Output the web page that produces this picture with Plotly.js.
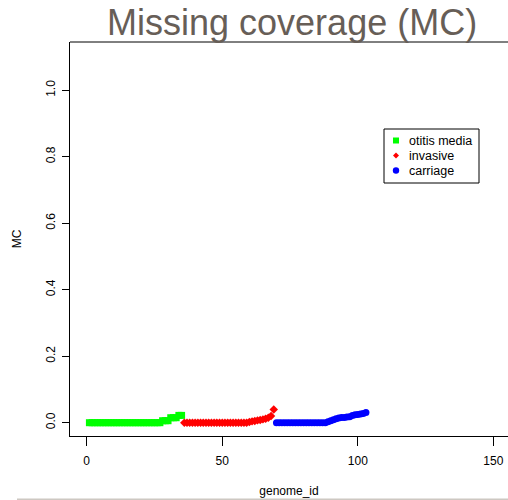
<!DOCTYPE html>
<html>
<head>
<meta charset="utf-8">
<script src="https://cdn.plot.ly/plotly-3.0.1.min.js"></script>
<style>html,body{margin:0;padding:0;background:#fff;}#chart{width:508px;height:500px;}</style>
</head>
<body>
<div id="chart"></div>
<script>
var seriesNames = ["otitis media", "invasive", "carriage"];
var seriesColors = ["#00ff00", "#ff0000", "#0000ff"];

var otitisIds = [1,2,3,4,5,6,7,8,9,10,11,12,13,14,15,16,17,18,19,20,21,22,23,24,25,26,27,28,29,30,31,32,33,34,35];
var otitisMC  = [0,0,0,0,0,0,0,0,0,0,0,0,0,0,0,0,0,0,0,0,0,0,0,0,0,0,0,0.006,0.006,0.006,0.015,0.015,0.015,0.022,0.022];

var invasiveIds = [36,37,38,39,40,41,42,43,44,45,46,47,48,49,50,51,52,53,54,55,56,57,58,59,60,61,62,63,64,65,66,67,68,69];
var invasiveMC  = [0,0,0,0,0,0,0,0,0,0,0,0,0,0,0,0,0,0,0,0,0,0,0,0,0.002,0.004,0.005,0.007,0.008,0.010,0.012,0.015,0.020,0.040];

var carriageIds = [70,71,72,73,74,75,76,77,78,79,80,81,82,83,84,85,86,87,88,89,90,91,92,93,94,95,96,97,98,99,100,101,102,103];
var carriageMC  = [0,0,0,0,0,0,0,0,0,0,0,0,0,0,0,0,0,0,0,0.003,0.006,0.009,0.012,0.014,0.016,0.016,0.017,0.018,0.022,0.024,0.025,0.026,0.028,0.031];

var xTicks = [0, 50, 100, 150];
var yTicks = [0, 0.2, 0.4, 0.6, 0.8, 1.0];
var yTickText = ["0.0", "0.2", "0.4", "0.6", "0.8", "1.0"];

var font = "Liberation Sans, Arial, Helvetica, sans-serif";

var traces = [
  {x: otitisIds, y: otitisMC, name: seriesNames[0], type: "scatter", mode: "markers",
   marker: {symbol: "square", size: 7, color: seriesColors[0]}},
  {x: invasiveIds, y: invasiveMC, name: seriesNames[1], type: "scatter", mode: "markers",
   marker: {symbol: "diamond", size: 6.5, color: seriesColors[1]}},
  {x: carriageIds, y: carriageMC, name: seriesNames[2], type: "scatter", mode: "markers",
   marker: {symbol: "circle", size: 7, color: seriesColors[2]}}
];

// plot area in px: x 70..508, y 42..436
function px(v) { return (v - 70) / 438; }
function py(v) { return (436 - v) / 394; }

var legendRows = [140.5, 155.5, 170.5];
var legendShapes = [
  {type: "rect", xref: "paper", yref: "paper", x0: px(384), x1: px(479), y0: py(183), y1: py(129),
   line: {color: "#000", width: 1}, fillcolor: "#fff"},
  {type: "rect", xref: "paper", yref: "paper", xsizemode: "pixel", ysizemode: "pixel",
   xanchor: px(396), yanchor: py(legendRows[0]), x0: -3, x1: 3, y0: -3, y1: 3,
   line: {width: 0}, fillcolor: seriesColors[0]},
  {type: "path", xref: "paper", yref: "paper", xsizemode: "pixel", ysizemode: "pixel",
   xanchor: px(396), yanchor: py(legendRows[1]), path: "M0,-3 L3,0 L0,3 L-3,0 Z",
   line: {width: 0}, fillcolor: seriesColors[1]},
  {type: "circle", xref: "paper", yref: "paper", xsizemode: "pixel", ysizemode: "pixel",
   xanchor: px(396), yanchor: py(legendRows[2]), x0: -3.2, x1: 3.2, y0: -3.2, y1: 3.2,
   line: {width: 0}, fillcolor: seriesColors[2]}
];
var legendAnnots = seriesNames.map(function (n, i) {
  return {text: n, xref: "paper", yref: "paper", x: px(407), y: py(legendRows[i]),
          xanchor: "left", yanchor: "middle", showarrow: false, font: {size: 12.5, color: "#000"}};
});

var layout = {
  width: 508, height: 500,
  margin: {l: 70, r: 0, t: 42, b: 64, pad: 0},
  paper_bgcolor: "#ffffff", plot_bgcolor: "#ffffff",
  font: {family: font, size: 12, color: "#000"},
  showlegend: false,
  title: {text: "Missing coverage (MC)", font: {family: font, size: 36, color: "#675e57"},
          xref: "container", yref: "container", x: 0.575, xanchor: "center", y: 0.955, yanchor: "middle"},
  xaxis: {range: [-6.16, 155.4], tickvals: xTicks, ticktext: xTicks.map(String),
          showgrid: false, zeroline: false, showline: true, linecolor: "#000", linewidth: 1,
          ticks: "outside", ticklen: 9, tickcolor: "#000", tickfont: {size: 12},
          ticklabelstandoff: 5,
          title: {text: "genome_id", font: {size: 12}, standoff: 19}},
  yaxis: {range: [-0.040, 1.1453], tickvals: yTicks, ticktext: yTickText, tickangle: -90,
          showgrid: false, zeroline: false, showline: true, linecolor: "#000", linewidth: 1,
          ticks: "outside", ticklen: 7, tickcolor: "#000", tickfont: {size: 12},
          ticklabelstandoff: 2,
          title: {text: "MC", font: {size: 12}, standoff: 20}},
  annotations: legendAnnots,
  shapes: [
    {type: "line", xref: "paper", yref: "paper", x0: 0, x1: 1.01, y0: 1, y1: 1,
     line: {color: "#000", width: 1}},
    {type: "line", xref: "paper", yref: "paper", x0: px(17), x1: 1.01, y0: py(499.3), y1: py(499.3),
     line: {color: "#cdc8c2", width: 1.5}}
  ].concat(legendShapes)
};

Plotly.newPlot("chart", traces, layout, {displayModeBar: false, staticPlot: true});
</script>
</body>
</html>
